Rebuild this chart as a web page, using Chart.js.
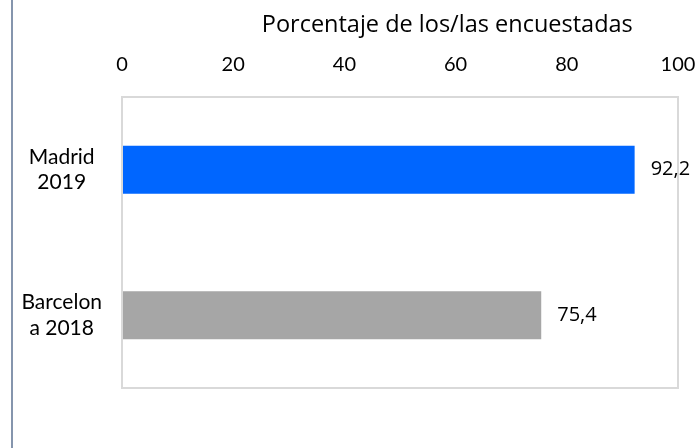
<!DOCTYPE html>
<html>
<head>
<meta charset="utf-8">
<script src="https://cdn.jsdelivr.net/npm/chart.js@4.4.1/dist/chart.umd.min.js"></script>
<style>
  html, body { margin: 0; padding: 0; background: #fff; }
  #wrap { position: relative; width: 697px; height: 448px; }
  #edge { position: absolute; left: 11px; top: 0; width: 2px; height: 448px; background: #8595ad; }
</style>
</head>
<body>
<div id="wrap">
  <canvas id="myChart" width="697" height="448"></canvas>
  <div id="edge"></div>
</div>
<script>
// Porcentaje de los/las encuestadas
let cities = [['Madrid', '2019'], ['Barcelon', 'a 2018']];
let percentages = [92.2, 75.4];
let barColors = ['#0066ff', '#a6a6a6'];
let axisTitle = 'Porcentaje de los/las encuestadas';

Chart.defaults.font.family = 'Lato';
Chart.defaults.color = '#000';

// caja gris alrededor del area, titulo del eje y etiquetas de valor
const boxAndLabels = {
    id: 'boxAndLabels',
    afterDatasetsDraw(chart) {
        const ctx = chart.ctx;
        const a = chart.chartArea;
        ctx.save();
        ctx.strokeStyle = '#d9d9d9';
        ctx.lineWidth = 2;
        ctx.strokeRect(a.left, a.top, a.right - a.left, a.bottom - a.top);
        ctx.fillStyle = '#000';
        ctx.textBaseline = 'middle';
        // el titulo en el original no esta centrado sobre el area
        ctx.textAlign = 'center';
        ctx.font = '23.5px "Open Sans"';
        ctx.fillText(axisTitle, a.left + (a.right - a.left) * 0.585, 25);
        ctx.textAlign = 'left';
        ctx.font = '20px "Open Sans"';
        chart.getDatasetMeta(0).data.forEach((bar, i) => {
            ctx.fillText(String(percentages[i]).replace('.', ','), bar.x + 16, bar.y);
        });
        ctx.restore();
    }
};

const ctx = document.getElementById('myChart').getContext('2d');
const myChart = new Chart(ctx, {
    type: 'bar',
    data: {
        labels: cities,
        datasets: [
            {
                data: percentages,
                backgroundColor: barColors,
                barPercentage: 0.33,
                categoryPercentage: 1,
            },
        ]
    },
    plugins: [boxAndLabels],
    options: {
        indexAxis: 'y',
        responsive: false,
        animation: false,
        layout: {
            padding: { left: 20, right: 19, top: 41, bottom: 60 }
        },
        plugins: {
            legend: { display: false },
            tooltip: { enabled: false }
        },
        scales: {
            x: {
                position: 'top',
                min: 0,
                max: 100,
                grid: { display: false },
                border: { display: false },
                ticks: { stepSize: 20, padding: 12, font: { size: 20 } },
                afterFit(s) { s.paddingLeft = 0; s.paddingRight = 0; }
            },
            y: {
                grid: { display: false },
                border: { display: false },
                ticks: { crossAlign: 'center', padding: 12, font: { size: 21 } },
                afterFit(s) { s.width = 102; }
            }
        }
    }
});
</script>
</body>
</html>
